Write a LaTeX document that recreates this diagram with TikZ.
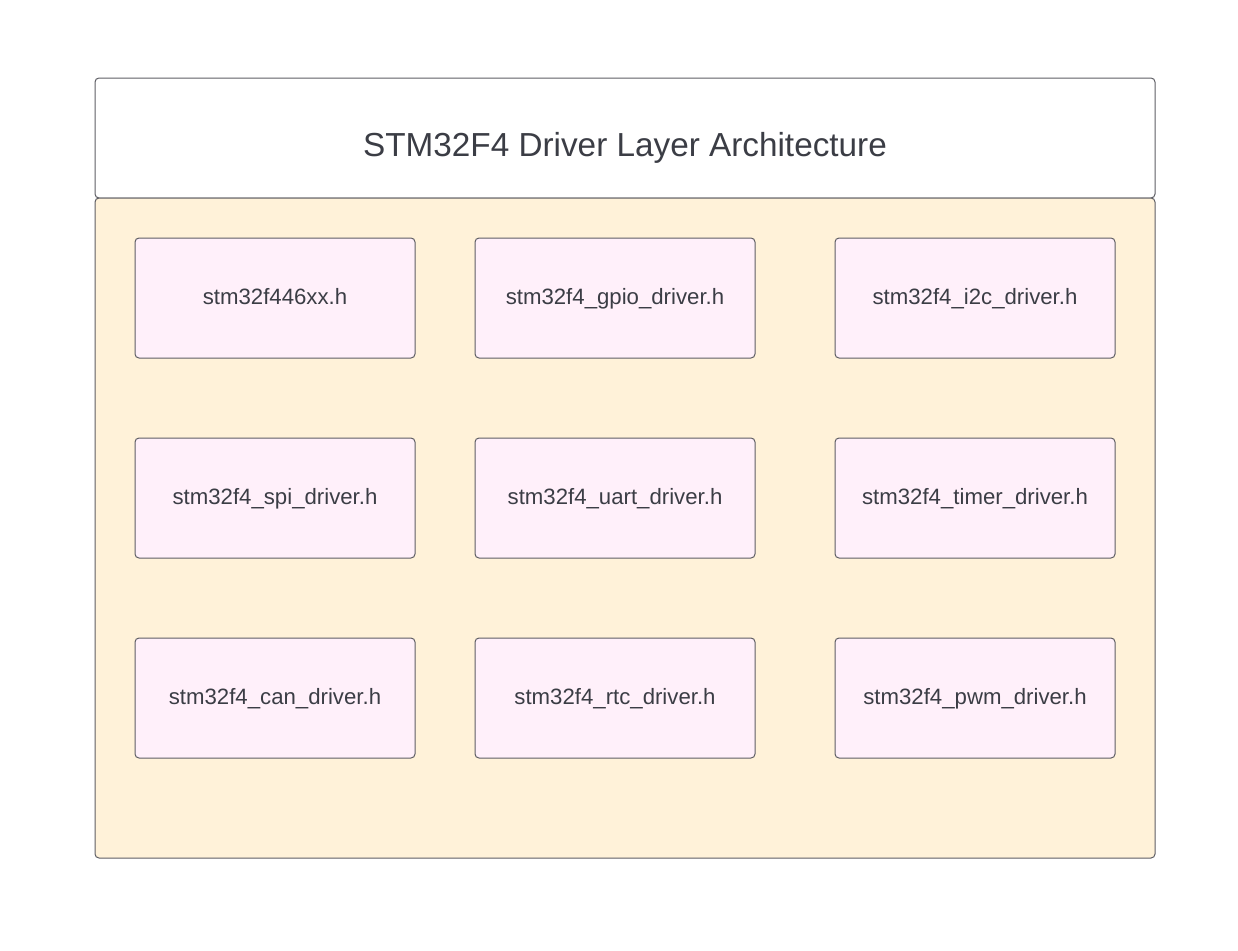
\documentclass[tikz,border=0pt]{standalone}
\usepackage{fontspec}
\setmainfont{Liberation Sans}
\definecolor{txtgray}{HTML}{3B3D45}
\definecolor{edgegray}{HTML}{5E5E64}
\definecolor{layerfill}{HTML}{FFF2D9}
\definecolor{filefill}{HTML}{FFF0FA}
\tikzset{
  frame/.style={draw=edgegray,line width=1pt,rounded corners=4pt,inner sep=0pt},
  filebox/.style={frame,fill=filefill,minimum width=280pt,minimum height=120pt,
    text=txtgray,text height=16pt,text depth=4pt,font=\fontsize{22.2}{26}\selectfont},
}
\begin{document}
\begin{tikzpicture}[x=1pt,y=-1pt]
  \useasboundingbox (0,0) rectangle (1238,950);
  % title and driver layer
  \node[frame,fill=white,minimum width=1060pt,minimum height=120pt] (title) at (625,138) {};
  \node[text=txtgray,font=\fontsize{33.3}{40}\selectfont] (titletext) at (625,148) {STM32F4 Driver Layer Architecture};
  \node[frame,fill=layerfill,minimum width=1060pt,minimum height=660pt] (layer) at (625,528) {};
  % header files
  \foreach \name/\lbl/\x/\y in {
      f446/stm32f446xx.h/275/298,
      gpio/stm32f4\_gpio\_driver.h/615/298,
      itwoc/stm32f4\_i2c\_driver.h/975/298,
      spi/stm32f4\_spi\_driver.h/275/498,
      uart/stm32f4\_uart\_driver.h/615/498,
      timer/stm32f4\_timer\_driver.h/975/498,
      can/stm32f4\_can\_driver.h/275/698,
      rtc/stm32f4\_rtc\_driver.h/615/698,
      pwm/stm32f4\_pwm\_driver.h/975/698}
    \node[filebox] (\name) at (\x,\y) {\lbl};
\end{tikzpicture}
\end{document}
